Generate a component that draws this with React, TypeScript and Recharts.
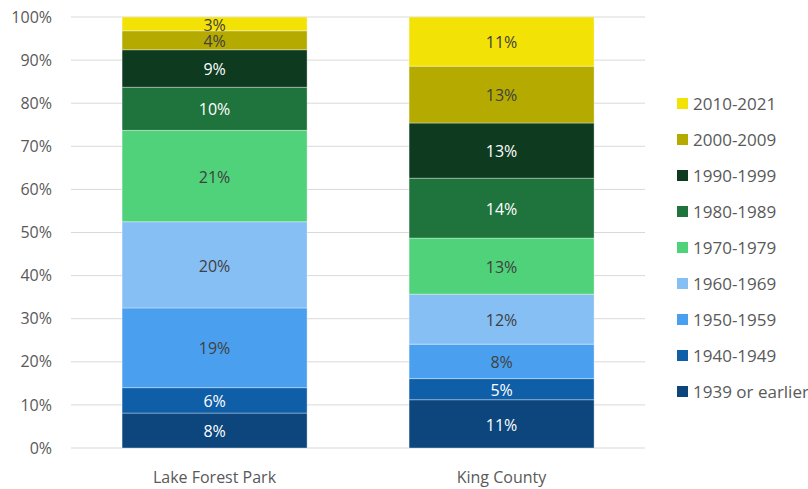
import React from 'react';
import { BarChart, Bar, XAxis, YAxis, CartesianGrid, LabelList } from 'recharts';

const categories = ['Lake Forest Park', 'King County'];
const periods = [
  '1939 or earlier',
  '1940-1949',
  '1950-1959',
  '1960-1969',
  '1970-1979',
  '1980-1989',
  '1990-1999',
  '2000-2009',
  '2010-2021',
];
// share of housing units (%) by year built, same order as periods
const lakeForestPark = [8.1, 5.9, 18.5, 20.0, 21.2, 10.0, 8.7, 4.4, 3.2];
const kingCounty = [11.2, 4.9, 8.0, 11.6, 13.0, 13.9, 12.8, 13.2, 11.4];
const yTicks = [0, 10, 20, 30, 40, 50, 60, 70, 80, 90, 100];

const colors = ['#0c467c', '#0f5ea8', '#4aa0ee', '#86bff4', '#50d27b', '#1f733d', '#0e3b1f', '#b5aa00', '#f3e205'];
const labelColors = ['#ffffff', '#ffffff', '#404040', '#404040', '#404040', '#ffffff', '#ffffff', '#404040', '#404040'];

const FONT = '"Open Sans", "Noto Sans", sans-serif';

const seriesValues = [lakeForestPark, kingCounty];
const data = categories.map((name, ci) => {
  const row: Record<string, string | number> = { name };
  periods.forEach((p, pi) => {
    row[p] = seriesValues[ci][pi];
  });
  return row;
});

// legend lists newest period first, like the original
const LegendBox = () => (
  <div
    style={{
      position: 'absolute',
      left: 677,
      top: 85,
      fontFamily: FONT,
      fontSize: 17,
      color: '#595959',
    }}
  >
    {periods
      .map((p, i) => ({ p, c: colors[i] }))
      .reverse()
      .map(({ p, c }) => (
        <div key={p} style={{ display: 'flex', alignItems: 'center', height: 36, whiteSpace: 'nowrap' }}>
          <span style={{ width: 11, height: 11, background: c, display: 'inline-block', marginRight: 5 }} />
          <span>{p}</span>
        </div>
      ))}
  </div>
);

export default function App() {
  return (
    <div style={{ position: 'absolute', left: 0, top: 0, width: 808, height: 489, overflow: 'hidden', background: '#fff' }}>
      <BarChart
        width={808}
        height={489}
        data={data}
        margin={{ top: 17, right: 163, bottom: 11, left: 0 }}
        barCategoryGap="17.8%"
      >
        <CartesianGrid vertical={false} stroke="#d9d9d9" />
        <XAxis
          dataKey="name"
          height={30}
          axisLine={false}
          tickLine={false}
          tickSize={0}
          tickMargin={24}
          tick={{ fill: '#595959', fontSize: 16, fontFamily: FONT }}
        />
        <YAxis
          width={71}
          domain={[0, 100]}
          ticks={yTicks}
          allowDataOverflow
          axisLine={false}
          tickLine={false}
          tickSize={0}
          tickMargin={19}
          tickFormatter={(v: number) => `${v}%`}
          tick={{ fill: '#595959', fontSize: 16, fontFamily: FONT }}
        />
        {periods.map((p, i) => (
          <Bar
            key={p}
            dataKey={p}
            stackId="a"
            fill={colors[i]}
            stroke="rgba(255,255,255,0.35)"
            strokeWidth={1}
            isAnimationActive={false}
          >
            <LabelList
              dataKey={p}
              position="center"
              fill={labelColors[i]}
              fontSize={16}
              fontFamily={FONT}
              dy={1}
              formatter={(v: any) => `${Math.round(Number(v))}%`}
            />
          </Bar>
        ))}
      </BarChart>
      <LegendBox />
    </div>
  );
}
